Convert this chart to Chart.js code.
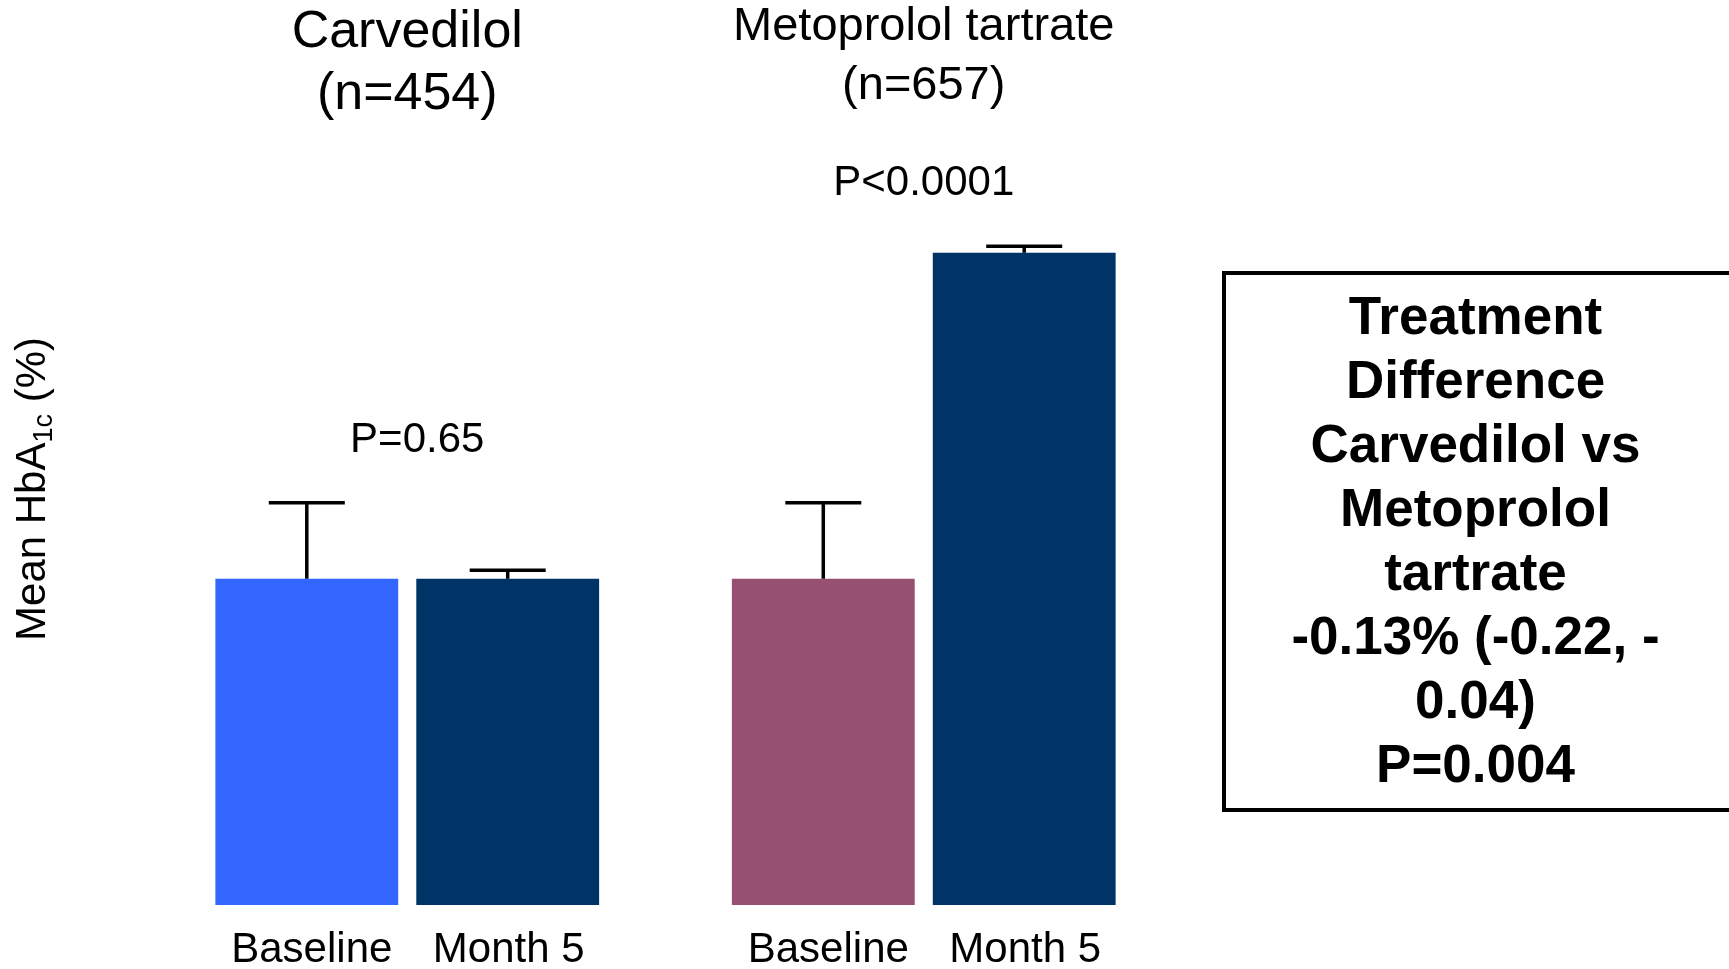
<!DOCTYPE html>
<html>
<head>
<meta charset="utf-8">
<title>Mean HbA1c: Carvedilol vs Metoprolol tartrate</title>
<script src="https://cdn.jsdelivr.net/npm/chart.js@4/dist/chart.umd.min.js"></script>
<style>
  html, body { margin: 0; padding: 0; background: #ffffff; }
  #wrap { position: relative; width: 1729px; height: 969px; }
</style>
</head>
<body>
<div id="wrap"><canvas id="hba1c"></canvas></div>
<script>
// Treatment groups and their sample sizes
const groups = ['Carvedilol', 'Metoprolol tartrate'];
const groupN = ['(n=454)', '(n=657)'];
// Time points shown under each bar
const timepoints = ['Baseline', 'Month 5'];
// Mean HbA1c (%) per group
const baselineHbA1c = [7.2, 7.2];
const month5HbA1c = [7.2, 7.35];
// Upper error (SE) per group
const baselineErr = [0.035, 0.035];
const month5Err = [0.004, 0.003];
// Within-group P values (baseline vs month 5)
const pValues = ['P=0.65', 'P<0.0001'];
// Between-treatment comparison
const diffLines = ['Treatment', 'Difference', 'Carvedilol vs', 'Metoprolol', 'tartrate',
                   '-0.13% (-0.22, -', '0.04)', 'P=0.004'];

const FONT = '"Liberation Sans", Arial, Helvetica, sans-serif';
const errors = [baselineErr, month5Err];

// Error bars (upper half only) with a horizontal cap
const errorBarPlugin = {
  id: 'errorBars',
  afterDatasetsDraw(chart) {
    const { ctx, scales: { y } } = chart;
    ctx.save();
    ctx.strokeStyle = '#000000';
    ctx.lineWidth = 3.5;
    chart.data.datasets.forEach((ds, di) => {
      const meta = chart.getDatasetMeta(di);
      meta.data.forEach((bar, i) => {
        const v = ds.data[i];
        const yTop = y.getPixelForValue(v + errors[di][i]);
        const yBar = y.getPixelForValue(v);
        const x = bar.x;
        ctx.beginPath();
        ctx.moveTo(x, yBar);
        ctx.lineTo(x, yTop);
        ctx.moveTo(x - 38, yTop);
        ctx.lineTo(x + 38, yTop);
        ctx.stroke();
      });
    });
    ctx.restore();
  }
};

// Group headings, bar labels, P values, axis title and the comparison box
const annotationPlugin = {
  id: 'annotations',
  afterDraw(chart) {
    const { ctx, scales: { x, y } } = chart;
    ctx.save();
    ctx.fillStyle = '#000000';
    ctx.textAlign = 'center';
    ctx.textBaseline = 'alphabetic';

    // Group headings
    const headFont = [52, 47];
    const headBase = [[47, 109], [40, 99]];
    groups.forEach((g, i) => {
      const cx = x.getPixelForValue(i);
      ctx.font = `${headFont[i]}px ${FONT}`;
      ctx.fillText(g, cx, headBase[i][0]);
      ctx.fillText(groupN[i], cx, headBase[i][1]);
    });

    // Time point labels under each bar
    ctx.font = `42px ${FONT}`;
    const labelShift = [5, 1];
    chart.data.datasets.forEach((ds, di) => {
      chart.getDatasetMeta(di).data.forEach((bar) => {
        ctx.fillText(timepoints[di], bar.x + labelShift[di], 962);
      });
    });

    // P values above each group
    ctx.font = `42px ${FONT}`;
    const pShift = [10, 0];
    groups.forEach((g, i) => {
      const top = Math.max(baselineHbA1c[i] + baselineErr[i], month5HbA1c[i] + month5Err[i]);
      const cx = x.getPixelForValue(i) + pShift[i];
      ctx.fillText(pValues[i], cx, y.getPixelForValue(top) - 51);
    });

    // Y axis title with subscript
    ctx.save();
    ctx.translate(45, 489);
    ctx.rotate(-Math.PI / 2);
    ctx.textAlign = 'left';
    const big = `42px ${FONT}`, small = `27px ${FONT}`;
    ctx.font = big;
    const w1 = ctx.measureText('Mean HbA').width;
    const w3 = ctx.measureText(' (%)').width;
    ctx.font = small;
    const w2 = ctx.measureText('1c').width;
    let px = -(w1 + w2 + w3) / 2;
    ctx.font = big;
    ctx.fillText('Mean HbA', px, 0);
    px += w1;
    ctx.font = small;
    ctx.fillText('1c', px, 7);
    px += w2;
    ctx.font = big;
    ctx.fillText(' (%)', px, 0);
    ctx.restore();

    // Comparison box
    ctx.lineWidth = 4;
    ctx.strokeStyle = '#000000';
    ctx.strokeRect(1224, 273, 1503, 537);
    ctx.font = `bold 53px ${FONT}`;
    diffLines.forEach((line, k) => {
      ctx.fillText(line, 1475.5, 334 + k * 64);
    });

    ctx.restore();
  }
};

new Chart(document.getElementById('hba1c'), {
  type: 'bar',
  data: {
    labels: groups,
    datasets: [
      {
        label: timepoints[0],
        data: baselineHbA1c,
        backgroundColor: ['#3366FF', '#955072'],
        borderWidth: 0
      },
      {
        label: timepoints[1],
        data: month5HbA1c,
        backgroundColor: ['#003366', '#003366'],
        borderWidth: 0
      }
    ]
  },
  options: {
    responsive: true,
    maintainAspectRatio: false,
    animation: false,
    devicePixelRatio: 1,
    categoryPercentage: 0.778,
    barPercentage: 0.91,
    layout: { padding: { left: 149, right: 547, top: 144, bottom: 64 } },
    plugins: {
      legend: { display: false },
      tooltip: { enabled: false },
      title: { display: false }
    },
    scales: {
      x: { display: false, offset: true },
      y: { display: false, min: 7.05, max: 7.40 }
    }
  },
  plugins: [errorBarPlugin, annotationPlugin]
});
</script>
</body>
</html>
